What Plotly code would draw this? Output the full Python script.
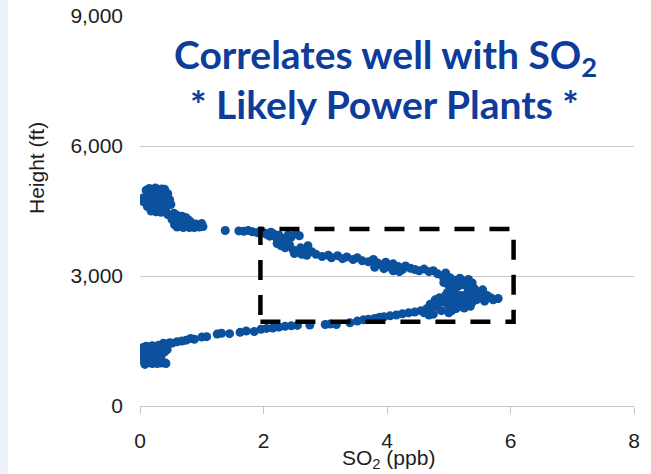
import plotly.graph_objects as go

# ---- data ----
upper_so2 = [0.10,0.15,0.20,0.25,0.30,0.35,0.40,0.12,0.18,0.22,0.28,0.05,0.08,0.14,0.20,0.26,0.32,0.10,0.16,0.22,0.30,0.36,0.05,0.12,0.20,0.28,0.34,0.40,0.48,0.18,0.26,0.34,0.42,0.45,0.40,0.50,0.44,
             0.45,0.50,0.55,0.60,0.52,0.58,0.62,0.68,0.70,0.74,0.66,0.72,0.78,0.82,0.85,0.90,0.95,1.00,0.80,0.88,0.96,1.02,0.60,0.70,0.56,0.78,
             1.38,1.60,1.68,1.75,1.82,1.90,1.95,2.02,2.08,2.12,2.18,
             2.05,2.10,2.15,2.20,2.25,2.30,2.35,2.40,2.45,2.52,2.58,2.22,2.28,2.35,2.42,2.48,2.55,2.60,2.66,2.72,2.78,2.50,2.62,2.70,2.85,2.95,3.05,3.10,3.20,3.28,3.35,3.45,3.52,3.60,3.70,3.78,3.85,3.92,3.98,4.05,4.10,4.18,4.25,4.30,4.38,4.45,4.52,4.60,4.68,4.75,4.82,4.90,4.95,5.02,5.10,5.18,5.25,5.32,5.38,4.92,5.00,5.08,5.15,5.22,5.30,4.10,4.20,3.95,3.80]
upper_height = [4980,5020,4990,5030,4970,5010,5000,4900,4870,4930,4880,4800,4750,4820,4780,4800,4760,4680,4650,4700,4690,4640,4720,4600,4560,4600,4560,4620,4760,4500,4480,4470,4500,4900,4850,4650,4700,
                4420,4380,4450,4400,4300,4250,4330,4380,4280,4350,4200,4150,4180,4250,4160,4200,4170,4210,4120,4120,4130,4140,4130,4120,4180,4300,
                4050,4040,4030,4050,4020,4000,4040,3990,3970,4010,3950,
                3960,3920,3980,3900,3940,3870,3800,3950,3900,3980,3930,3750,3700,3650,3720,3600,3560,3650,3600,3700,3560,3520,3500,3480,3500,3450,3480,3420,3470,3400,3440,3380,3420,3350,3330,3380,3300,3250,3320,3200,3280,3220,3150,3230,3180,3150,3120,3160,3100,3120,3050,3000,3070,2960,2900,2950,2880,2920,2840,2850,2780,2820,2760,2800,2750,3120,3100,3170,3200]

lower_so2 = [4.60,4.65,4.70,4.72,4.78,4.80,4.85,4.88,4.92,4.95,5.00,5.02,5.05,5.08,5.10,5.15,5.18,5.20,5.22,5.28,5.30,5.32,5.38,5.40,5.45,5.50,5.52,5.58,5.62,5.68,5.72,5.80,5.55,5.42,5.00,5.12,5.25,4.75,4.68,4.82,5.35,4.98,5.10,
             4.55,4.45,4.35,4.25,4.15,4.05,3.95,3.88,3.80,3.70,3.62,3.52,3.40,3.18,3.08,3.00,2.75,2.55,2.45,2.35,2.25,2.15,2.05,1.96,1.85,1.72,1.62,1.45,1.32,1.25,1.08,1.00,0.88,0.82,0.75,0.68,0.60,0.52,0.45,
             0.05,0.10,0.15,0.20,0.25,0.30,0.35,0.08,0.12,0.18,0.24,0.30,0.36,0.05,0.10,0.16,0.22,0.28,0.06,0.12,0.18,0.24,0.05,0.10,0.15,0.20,0.28,0.35,0.40,0.08,0.42,0.38,0.48,
             0.40,0.44,0.40,0.34,0.30,0.42]
lower_height = [2150,2250,2350,2200,2450,2300,2500,2200,2400,2550,2300,2450,2200,2600,2380,2500,2300,2550,2420,2350,2600,2480,2400,2550,2450,2600,2500,2420,2550,2500,2450,2480,2680,2700,2150,2250,2260,2120,2100,2380,2300,2620,2680,
                2200,2170,2150,2130,2100,2080,2060,2050,2020,2000,1990,1960,1920,1880,1890,1880,1870,1860,1850,1840,1820,1800,1790,1770,1720,1730,1700,1670,1680,1660,1600,1590,1540,1560,1520,1500,1480,1450,1420,
                1350,1380,1360,1390,1370,1400,1380,1300,1260,1300,1280,1320,1300,1200,1220,1180,1220,1200,1120,1100,1140,1100,1050,1020,1000,980,980,990,1000,960,1420,1450,1460,
                1340,1300,1250,1150,1050,980]

box_so2 = [1.95, 6.05]
box_height = [1946, 4085]

x_ticks = [0, 2, 4, 6, 8]
y_ticks = [0, 3000, 6000, 9000]

# ---- layout geometry ----
L, R, T, B = 140, 17, 16, 68
W, H = 651, 474
pw, ph = W - L - R, H - T - B

def px(xp):
    return (xp - L) / pw

def py(yp):
    return (H - B - yp) / ph

DOT = "#0B519E"
TITLE = "#0D3C9B"
TXT = "#1E1E1E"

fig = go.Figure()
fig.add_trace(go.Scatter(x=upper_so2 + lower_so2, y=upper_height + lower_height,
                         mode="markers", marker=dict(size=9, color=DOT, line=dict(width=0)),
                         hoverinfo="skip", showlegend=False))

fig.add_shape(type="rect", xref="x", yref="y", x0=box_so2[0], x1=box_so2[1],
              y0=box_height[0], y1=box_height[1],
              line=dict(color="black", width=4.5, dash="20px,15px"), fillcolor="rgba(0,0,0,0)")

# left light stripe
fig.add_shape(type="rect", xref="paper", yref="paper", x0=px(-5), x1=px(8),
              y0=py(H + 5), y1=py(-5), line=dict(width=0), fillcolor="#EDF1FC", layer="below")

fig.add_annotation(text="Correlates well with SO<sub>2</sub>", xref="paper", yref="paper",
                   x=px(385), y=py(57), showarrow=False, xanchor="center", yanchor="middle",
                   font=dict(family="Lato", size=39, color=TITLE, weight="bold"))
fig.add_annotation(text="* Likely Power Plants *", xref="paper", yref="paper",
                   x=px(384), y=py(104), showarrow=False, xanchor="center", yanchor="middle",
                   font=dict(family="Lato", size=39, color=TITLE, weight="bold"))

fig.add_annotation(text="Height (ft)", xref="paper", yref="paper", x=px(37), y=py(168),
                   textangle=-90, showarrow=False, xanchor="center", yanchor="middle",
                   font=dict(family="Liberation Sans", size=21, color=TXT))
fig.add_annotation(text="SO<sub>2</sub> (ppb)", xref="paper", yref="paper", x=px(388), y=py(459),
                   showarrow=False, xanchor="center", yanchor="middle",
                   font=dict(family="Liberation Sans", size=21, color=TXT))

fig.update_layout(
    width=W, height=H, margin=dict(l=L, r=R, t=T, b=B, autoexpand=False),
    paper_bgcolor="white", plot_bgcolor="white",
    font=dict(family="Liberation Sans", size=21, color=TXT),
    xaxis=dict(range=[0, 8], tickvals=x_ticks, showgrid=False, zeroline=False,
               showline=True, linecolor="#C4C4C4", linewidth=1,
               ticks="outside", ticklen=7, tickcolor="#C4C4C4", ticklabelstandoff=9),
    yaxis=dict(range=[0, 9000], tickvals=y_ticks, tickformat=",", showgrid=True,
               gridcolor="#C8C8C8", gridwidth=1, zeroline=False, showline=False,
               ticks="", ticklabelstandoff=16),
)

fig.write_html("out.html", config={"displayModeBar": False},
               post_script="document.body.style.margin='0';document.body.style.overflow='hidden';")
